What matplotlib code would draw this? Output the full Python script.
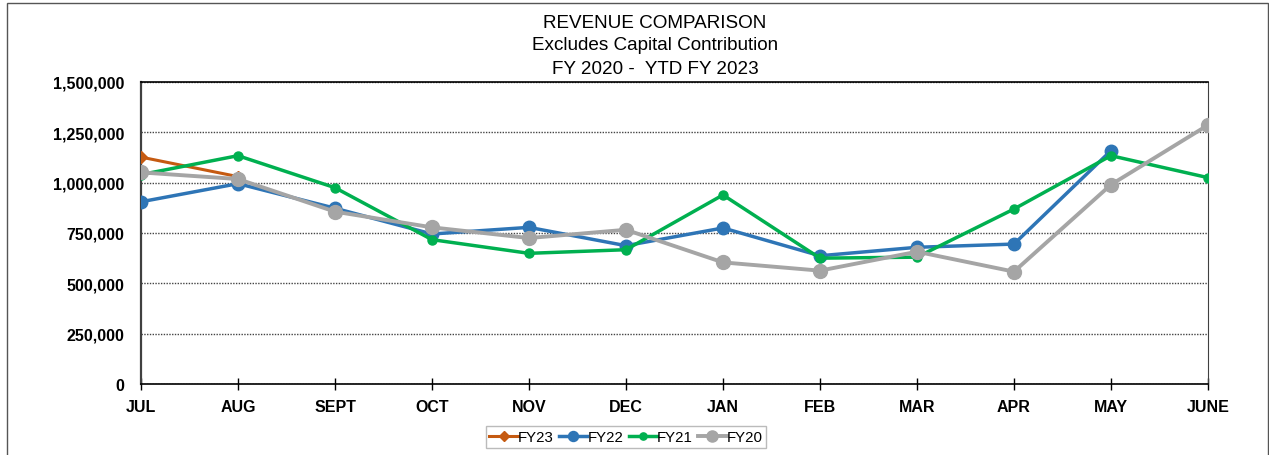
import matplotlib
matplotlib.use("Agg")
import matplotlib.pyplot as plt
from matplotlib.patches import Rectangle
from matplotlib.ticker import FuncFormatter, MultipleLocator

plt.rcParams['font.family'] = ['Liberation Sans', 'DejaVu Sans']

# monthly revenue
months = ["JUL", "AUG", "SEPT", "OCT", "NOV", "DEC", "JAN", "FEB", "MAR", "APR", "MAY", "JUNE"]
fy23 = [1127000, 1030000]
fy22 = [905000, 995000, 873000, 745000, 778000, 687000, 775000, 637000, 679000, 695000, 1159000]
fy21 = [1040000, 1134000, 975000, 717000, 649000, 667000, 939000, 625000, 630000, 869000, 1134000, 1025000]
fy20 = [1051000, 1018000, 856000, 778000, 725000, 766000, 604000, 563000, 657000, 558000, 990000, 1286000]

fig = plt.figure(figsize=(12.69, 4.56), dpi=100)
ax = fig.add_axes([0.1111, 0.1557, 0.8408, 0.6623])

# outer chart border
fig.patches.append(Rectangle((7 / 1269, -0.01), 1261 / 1269, 1 - 4 / 456 + 0.01,
                             transform=fig.transFigure, fill=False,
                             edgecolor="#555555", linewidth=1.0))

x = list(range(len(months)))
ax.plot(x[:len(fy23)], fy23, color="#C55A11", lw=2.2, marker="D", ms=6.5, label="FY23", zorder=3)
ax.plot(x[:len(fy22)], fy22, color="#2E75B6", lw=2.5, marker="o", ms=9, label="FY22", zorder=4)
ax.plot(x[:len(fy21)], fy21, color="#00B050", lw=2.5, marker="o", ms=6.5, label="FY21", zorder=5)
ax.plot(x[:len(fy20)], fy20, color="#A5A5A5", lw=2.8, marker="o", ms=10, label="FY20", zorder=6)

ax.set_xlim(0, len(months) - 1)
ax.set_ylim(0, 1500000)
ax.yaxis.set_major_locator(MultipleLocator(250000))
ax.yaxis.set_major_formatter(FuncFormatter(lambda v, p: "{:,.0f}".format(v)))
ax.set_xticks(x)
ax.set_xticklabels(months)
ax.tick_params(axis="x", direction="inout", length=9, width=1, pad=6)
ax.tick_params(axis="y", length=0, pad=12)
for lbl in ax.get_xticklabels() + ax.get_yticklabels():
    lbl.set_fontsize(11.5)
    lbl.set_fontweight("bold")

ax.grid(axis="y", color="#444444", linestyle=(0, (1, 1)), linewidth=1.0)
ax.set_axisbelow(True)
ax.spines["left"].set_color("#404040")
ax.spines["left"].set_linewidth(1.6)
ax.spines["bottom"].set_linewidth(1.2)
ax.spines["top"].set_linewidth(1.2)
ax.spines["right"].set_color("#404040")

tx = 655 / 1269
fig.text(tx, 1 - 24 / 456, "REVENUE COMPARISON", ha="center", va="center", fontsize=13.6)
fig.text(tx, 1 - 46 / 456, "Excludes Capital Contribution", ha="center", va="center", fontsize=13.6)
fig.text(tx, 1 - 69 / 456, "FY 2020 -  YTD FY 2023", ha="center", va="center", fontsize=13.6)

leg = fig.legend(loc="center", bbox_to_anchor=(626 / 1269, 1 - 438 / 456), ncol=4,
                 fontsize=10.8, frameon=True, fancybox=False, handlelength=1.9,
                 columnspacing=0.35, handletextpad=0.0, borderpad=0.25, markerscale=0.8)
leg.get_frame().set_edgecolor("#AAAAAA")
leg.get_frame().set_linewidth(1.0)

fig.savefig("out.png", dpi=100)
